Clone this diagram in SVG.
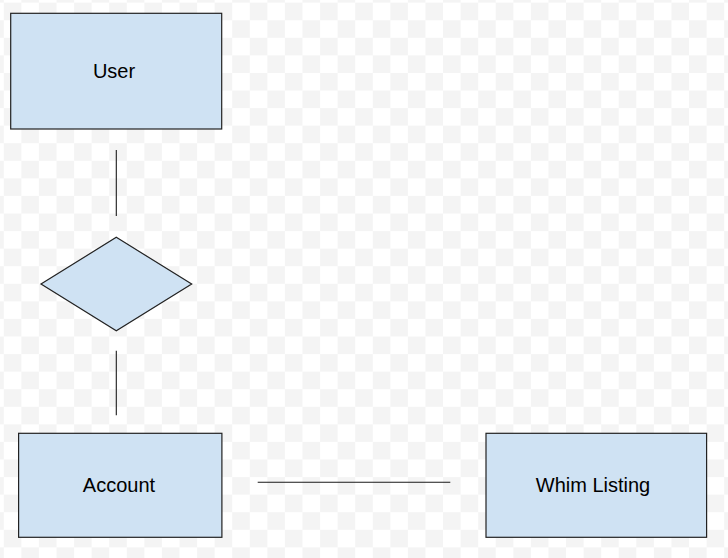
<svg xmlns="http://www.w3.org/2000/svg" width="728" height="558" viewBox="0 0 728 558">
  <style>
    .shape { fill: #cfe2f3; stroke: #222222; stroke-width: 1.2; }
    .label { font-family: "Liberation Sans", Arial, sans-serif; font-size: 20px; fill: #000000; text-anchor: middle; }
    .conn { stroke: #1a1a1a; stroke-width: 1.1; fill: none; }
  </style>
  <defs>
    <pattern id="checker" patternUnits="userSpaceOnUse" x="3.8" y="2.67" width="35.14" height="35.14">
      <rect x="0" y="0" width="35.14" height="35.14" fill="#ffffff"/>
      <rect x="0" y="0" width="17.57" height="17.57" fill="#f4f4f4"/>
      <rect x="17.57" y="17.57" width="17.57" height="17.57" fill="#f4f4f4"/>
    </pattern>
  </defs>
  <rect x="0" y="0" width="728" height="558" fill="url(#checker)"/>

  <g id="connectors">
    <line class="conn" x1="116.3" y1="150" x2="116.3" y2="216"/>
    <line class="conn" x1="116.3" y1="350.7" x2="116.3" y2="415.3"/>
    <line class="conn" x1="257.7" y1="482.3" x2="450.3" y2="482.3"/>
  </g>

  <g id="user">
    <rect class="shape" x="10.7" y="13.3" width="211" height="115.7"/>
    <text class="label" x="114" y="78.3">User</text>
  </g>

  <g id="relationship">
    <polygon class="shape" points="116.3,237.3 191.7,284 116.3,330.7 41,284"/>
  </g>

  <g id="account">
    <rect class="shape" x="18.6" y="433.3" width="203.3" height="104"/>
    <text class="label" x="119" y="492.3">Account</text>
  </g>

  <g id="whim-listing">
    <rect class="shape" x="486" y="433.3" width="220.6" height="104"/>
    <text class="label" x="593" y="492.3">Whim Listing</text>
  </g>
</svg>
